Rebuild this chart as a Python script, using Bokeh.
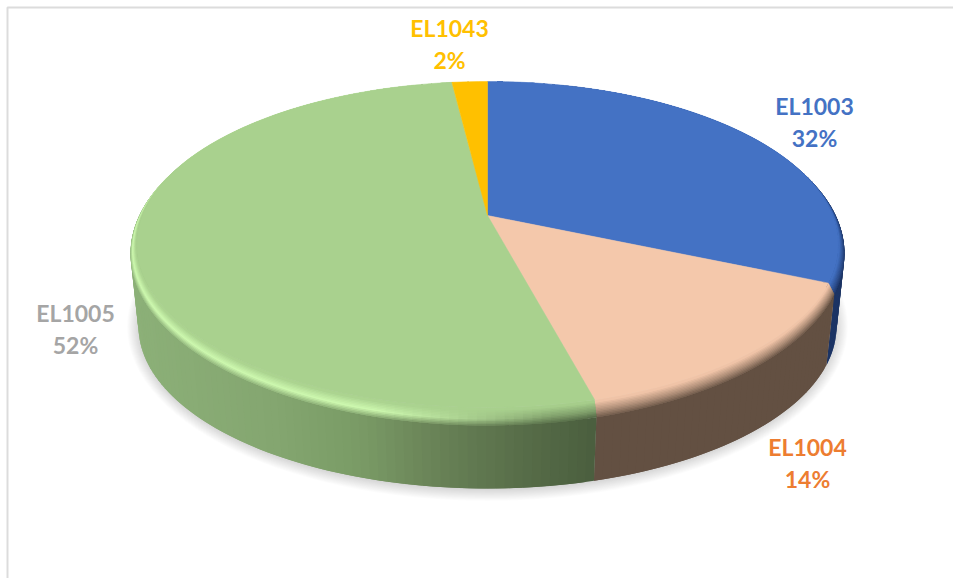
import math

import numpy as np
from bokeh.core.properties import value
from bokeh.embed import file_html
from bokeh.models import ColumnDataSource, Range1d
from bokeh.plotting import figure
from bokeh.resources import INLINE

# Chart data
categories = ["EL1003", "EL1004", "EL1005", "EL1043"]
shares = [32, 14, 52, 2]
face_colors = ["#4472c4", "#f4c8ab", "#a9d18e", "#ffc000"]
label_colors = ["#4472c4", "#ed7d31", "#a5a5a5", "#ffc000"]
label_x = [814, 807, 75, 449]
label_y = [105, 446, 312, 27]

# Per-slice shading of the outer wall: (horizontal position, RGB) stops
wall_stops = [
    [(-1, (28, 52, 100)), (1, (28, 52, 100))],
    [(-1, (99, 80, 66)), (1, (99, 80, 66))],
    [(-1, (140, 176, 120)), (-0.6, (132, 166, 112)), (-0.35, (122, 155, 102)),
     (-0.15, (106, 132, 88)), (0.1, (88, 110, 73)), (0.32, (74, 94, 62)), (1, (74, 94, 62))],
    [(-1, (150, 112, 0)), (1, (150, 112, 0))],
]
HIGHLIGHT = (205, 248, 175)

# Drum geometry in page pixels, all ellipses as (cx, cy, rx, ry)
FACE = (487, 244, 351, 163)
RIM = (487, 253, 357, 172)
BASE = (487, 326, 349, 162)
PERSPECTIVE = 0.21
APEX_Y = 215


def hex_rgb(color):
    return tuple(int(color[i:i + 2], 16) for i in (1, 3, 5))


def to_hex(rgb):
    return "#%02x%02x%02x" % tuple(int(round(c)) for c in rgb)


def mix(a, b, w):
    return tuple(x + (y - x) * w for x, y in zip(a, b))


def on_ellipse(e, t):
    return e[0] + e[2] * math.sin(t), e[1] - e[3] * math.cos(t)


def tilted(angle):
    """Map a pie angle to its angle on the foreshortened ellipse."""
    u, v = math.sin(angle), -math.cos(angle)
    den = 1 - PERSPECTIVE * v
    xp = u * math.sqrt(1 - PERSPECTIVE ** 2) / den
    yp = (v - PERSPECTIVE) / den
    return math.atan2(xp, -yp) % (2 * math.pi)


def arc(t0, t1, step=math.radians(1.5)):
    n = max(1, int(math.ceil((t1 - t0) / step)))
    return [t0 + (t1 - t0) * i / n for i in range(n + 1)]


def wall_color(i, s):
    xs = [p[0] for p in wall_stops[i]]
    return tuple(float(np.interp(s, xs, [p[1][k] for p in wall_stops[i]])) for k in range(3))


cum = np.cumsum([0] + shares) / sum(shares) * 2 * math.pi
bounds = [(tilted(cum[i]) if i else 0.0, tilted(cum[i + 1]) if i < len(shares) - 1 else 2 * math.pi)
          for i in range(len(shares))]

p = figure(width=953, height=578, x_range=Range1d(0, 953), y_range=Range1d(578, 0),
           output_backend="svg", toolbar_location=None, min_border=0,
           background_fill_color="white", border_fill_color="white", outline_line_color=None)
p.axis.visible = False
p.grid.visible = False

# Worksheet frame
p.line([7, 7, 953], [578, 7, 7], line_color="#dcdcdc", line_width=2)

# Soft ground shadow
for grow in range(15, 0, -1):
    ts = arc(0, 2 * math.pi, math.radians(3))
    e = (BASE[0], BASE[1], BASE[2] + grow * 0.9 - 2, BASE[3] + grow * 0.9 - 1)
    pts = [on_ellipse(e, t) for t in ts]
    p.patch([q[0] for q in pts], [q[1] for q in pts], fill_color="black", fill_alpha=0.013, line_color=None)

# Outer wall, then the rounded rim; each quad runs on under its neighbour to avoid seams
xs, ys, cs = [], [], []
vis0, vis1 = math.radians(30), math.radians(330)
for i, (t0, t1) in enumerate(bounds):
    lo, hi = max(t0, vis0), min(t1, vis1)
    if hi <= lo:
        continue
    ts = arc(lo, hi)
    for j, a in enumerate(ts[:-1]):
        b = ts[min(j + 2, len(ts) - 1)]
        p1, p2 = on_ellipse(RIM, a), on_ellipse(RIM, b)
        p3, p4 = on_ellipse(BASE, b), on_ellipse(BASE, a)
        xs.append([p1[0], p2[0], p3[0], p4[0]])
        ys.append([p1[1], p2[1], p3[1], p4[1]])
        cs.append(to_hex(wall_color(i, math.sin(a))))

RIM_STEPS = 12
for i, (t0, t1) in enumerate(bounds):
    face = hex_rgb(face_colors[i])
    ts = arc(t0, t1)
    for k in range(RIM_STEPS - 1, -1, -1):
        w0 = k / RIM_STEPS
        w1 = (k + 2) / RIM_STEPS if k < RIM_STEPS - 1 else 1.0
        w = (k + 0.5) / RIM_STEPS
        e0 = tuple(f + (r - f) * w0 for f, r in zip(FACE, RIM))
        e1 = tuple(f + (r - f) * w1 for f, r in zip(FACE, RIM))
        for j, a in enumerate(ts[:-1]):
            b = ts[min(j + 2, len(ts) - 1)]
            s = math.sin(a)
            wall = wall_color(i, s)
            glow = min(1.0, max(0.0, (0.2 - s) / 0.5))
            peak = mix(mix(face, wall, 0.45), HIGHLIGHT, glow) if i == 2 else mix(face, wall, 0.5)
            col = mix(face, peak, w / 0.55) if w < 0.55 else mix(peak, wall, (w - 0.55) / 0.45)
            p1, p2 = on_ellipse(e0, a), on_ellipse(e0, b)
            p3, p4 = on_ellipse(e1, b), on_ellipse(e1, a)
            xs.append([p1[0], p2[0], p3[0], p4[0]])
            ys.append([p1[1], p2[1], p3[1], p4[1]])
            cs.append(to_hex(col))

p.patches("xs", "ys", source=ColumnDataSource(dict(xs=xs, ys=ys, c=cs)),
          fill_color="c", line_color=None)

# Flat top of each slice
fx, fy = [], []
for t0, t1 in bounds:
    pts = [on_ellipse(FACE, t) for t in arc(t0, t1)]
    fx.append([FACE[0]] + [q[0] for q in pts])
    fy.append([APEX_Y] + [q[1] for q in pts])
p.patches("xs", "ys", source=ColumnDataSource(dict(xs=fx, ys=fy, c=face_colors)),
          fill_color="c", line_color="c", line_width=0.5)

# Two-line data labels
LINE_GAP = 32
lx = label_x + label_x
ly = label_y + [y + LINE_GAP for y in label_y]
txt = categories + [f"{v}%" for v in shares]
p.text(x="x", y="y", text="t", text_color="c",
       source=ColumnDataSource(dict(x=lx, y=ly, t=txt, c=label_colors + label_colors)),
       text_font=value("Lato"), text_font_style="bold", text_font_size="23px",
       text_align="center", text_baseline="middle")

open("out.html", "w").write(file_html(p, INLINE))
